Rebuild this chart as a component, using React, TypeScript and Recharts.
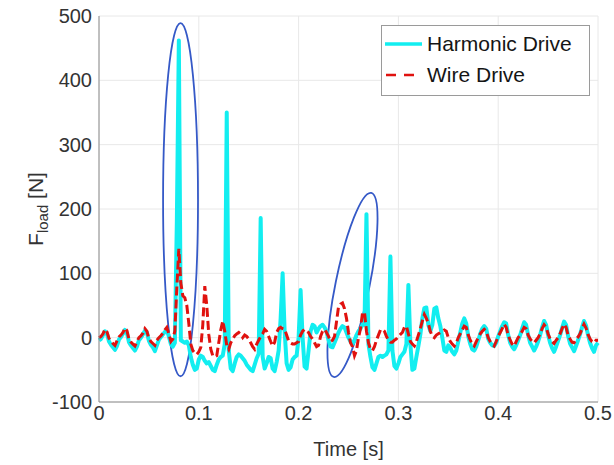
import React from 'react';
import { CartesianGrid, Legend, Line, LineChart, ReferenceArea, XAxis, YAxis } from 'recharts';

const FONT = '"Liberation Sans", Arial, Helvetica, sans-serif';
const CYAN = '#12eef0';
const RED = '#e0120f';
const ELLIPSE = '#3559c7';

// sampled every 2 ms from 0 to 0.5 s
const SAMPLE_STEP = 0.002;

const harmonicDrive = [
  -4, -2, 4, 10, 6, -6, -11, -15, -19, -13,
  -3, 1, 6, 12, 7, -7, -12, -16, -20, -14,
  -4, 0, 5, 11, 8, -5, -11, -15, -21, -12,
  -3, 1, 5, 9, 12, 2, -10, -14, -8, 180,
  462, -4, -6, -8, -6, -12, -30, -42, -50, -48,
  -34, -28, -30, -36, -40, -38, -44, -50, -52, -42,
  -34, -30, -28, -10, 350, -20, -48, -52, -40, -30,
  -26, -28, -32, -36, -42, -46, -50, -52, -42, -32,
  -25, 186, -30, -48, -40, -30, -32, -48, -52, -38,
  -20, 30, 100, 10, -40, -50, -46, -34, -30, -28,
  0, 74, 0, -45, -48, -20, 10, 20, 18, 8,
  14, 18, 20, 16, 10, -4, -14, -15, -8, 0,
  8, 14, 18, 16, 8, 0, -6, -10, -4, 4,
  10, 14, 20, 20, 192, -10, -30, -46, -50, -40,
  -30, -28, -30, -28, -26, -20, 126, -20, -44, -48,
  -40, -30, -26, -22, -10, 82, -10, -50, -48, -30,
  -13, 5, 30, 46, 47, 20, 10, 20, 45, 47,
  30, 18, 0, -20, -22, -12, -16, -22, -26, -20,
  -6, 8, 22, 30, 22, 2, -10, -18, -20, -14,
  -4, 6, 14, 18, 14, -2, -8, -12, -13, -8,
  2, 10, 18, 24, 22, 4, -8, -14, -18, -12,
  -4, 4, 14, 24, 20, 4, -8, -14, -20, -14,
  -6, 4, 16, 26, 20, 4, -8, -16, -22, -14,
  -5, 4, 15, 25, 20, 3, -9, -15, -21, -13,
  -4, 5, 16, 26, 19, 4, -8, -16, -22, -12,
  -8,
];

const wireDrive = [
  0, 2, 6, 13, 9, -1, -5, -9, -12, -5,
  1, 4, 8, 15, 11, -2, -7, -10, -13, -6,
  0, 3, 7, 14, 10, -1, -6, -9, -12, -4,
  0, 3, 7, 12, 16, 6, -6, -2, 10, 78,
  138, 85, 65, 62, 50, 22, -10, -20, -24, -26,
  -22, -15, 20, 80, 50, 5, -18, -28, -30, -28,
  -8, 12, 26, 10, -12, -18, -8, -2, 3, 6,
  8, 5, 0, 4, 2, -2, -8, -14, -18, -10,
  -4, 2, 6, 13, 10, 2, -6, -13, -7, 8,
  14, 16, 14, 13, 4, -5, -8, -10, -10, -8,
  -6, 4, 10, 13, 10, 8, 2, -2, -8, -14,
  -12, 2, 10, 13, 8, 2, -6, -4, 2, 25,
  48, 52, 54, 45, 30, 8, -8, -14, -28, -20,
  0, 14, 38, 40, 10, -8, -18, -20, -14, -4,
  4, 12, 13, 10, 2, -4, -7, -7, -4, -2,
  2, 5, 8, 16, 18, 6, -6, -10, -13, -6,
  4, 14, 26, 36, 30, 22, 10, 2, 0, 4,
  6, 8, 10, 12, 10, 0, -6, -10, -13, -8,
  0, 6, 12, 18, 16, 4, -4, -10, -13, -6,
  0, 6, 10, 13, 10, 0, -6, -10, -13, -6,
  2, 8, 14, 21, 16, 4, -4, -10, -13, -6,
  0, 4, 10, 16, 14, 4, -2, -6, -8, -4,
  0, 6, 14, 20, 16, 6, -2, -6, -9, -4,
  0, 6, 14, 21, 16, 4, -2, -7, -8, -3,
  1, 6, 14, 21, 15, 5, -2, -6, -8, -4,
  -4,
];

const xTicks = [0, 0.1, 0.2, 0.3, 0.4, 0.5];
const yTicks = [-100, 0, 100, 200, 300, 400, 500];

// hand-drawn highlight ellipses: bounding box in data units + tilt (deg)
const highlightX1 = [0.0642, 0.237];
const highlightX2 = [0.0992, 0.271];
const highlightY1 = [-60, -64];
const highlightY2 = [489, 228];
const highlightTilt = [0, 11.5];

const data = harmonicDrive.map((h, i) => ({
  t: +(i * SAMPLE_STEP).toFixed(3),
  harmonic: h,
  wire: wireDrive[i],
}));

const ellipseShape = (tilt: number) => (props: any) => {
  const { x, y, width, height } = props;
  const cx = x + width / 2;
  const cy = y + height / 2;
  return (
    <ellipse
      cx={cx}
      cy={cy}
      rx={Math.abs(width) / 2}
      ry={Math.abs(height) / 2}
      transform={`rotate(${tilt} ${cx} ${cy})`}
      fill="none"
      stroke={ELLIPSE}
      strokeWidth={1.8}
    />
  );
};

const YLabel = (props: any) => {
  const vb = props.viewBox || { x: 0, y: 16, width: 99, height: 386 };
  const x = vb.x + 43;
  const y = vb.y + vb.height / 2;
  return (
    <text x={x} y={y} transform={`rotate(-90 ${x} ${y})`} textAnchor="middle" fill="#333" fontFamily={FONT} fontSize={21}>
      <tspan>F</tspan>
      <tspan fontSize={15} dy={5}>load</tspan>
      <tspan dy={-5}> [N]</tspan>
    </text>
  );
};

const LegendBox = () => (
  <div
    style={{
      width: 209,
      height: 71,
      boxSizing: 'border-box',
      border: '1px solid #9a9a9a',
      background: '#fff',
      fontFamily: FONT,
      fontSize: 21,
      color: '#151515',
      paddingTop: 2,
    }}
  >
    <div style={{ display: 'flex', alignItems: 'center', height: 31 }}>
      <svg width={42} height={8} style={{ marginLeft: 3 }}>
        <line x1={0} y1={4} x2={37} y2={4} stroke={CYAN} strokeWidth={3.5} />
      </svg>
      <span>Harmonic Drive</span>
    </div>
    <div style={{ display: 'flex', alignItems: 'center', height: 31 }}>
      <svg width={42} height={8} style={{ marginLeft: 3 }}>
        <line x1={1} y1={4} x2={36} y2={4} stroke={RED} strokeWidth={2.5} strokeDasharray="10 8" />
      </svg>
      <span>Wire Drive</span>
    </div>
  </div>
);

export default function App() {
  return (
    <div style={{ position: 'absolute', left: 0, top: 0, width: 614, height: 465, background: '#fff' }}>
      <LineChart width={614} height={465} data={data} margin={{ top: 16, right: 16, left: 0, bottom: 0 }}>
        <CartesianGrid stroke="#e8e8e8" />
        <XAxis
          dataKey="t"
          type="number"
          domain={[0, 0.5]}
          ticks={xTicks}
          interval={0}
          tickFormatter={(v) => String(v)}
          height={63}
          tickSize={0}
          tickMargin={4}
          stroke="#8c8c8c"
          tick={{ fill: '#333', fontSize: 20, fontFamily: FONT }}
          label={{ value: 'Time [s]', position: 'insideBottom', offset: 9, fill: '#333', fontSize: 20, fontFamily: FONT }}
        />
        <YAxis
          type="number"
          domain={[-100, 500]}
          ticks={yTicks}
          interval={0}
          width={99}
          tickSize={0}
          tickMargin={7}
          stroke="#8c8c8c"
          tick={{ fill: '#333', fontSize: 20, fontFamily: FONT }}
          label={<YLabel />}
        />
        <Legend layout="vertical" align="center" verticalAlign="middle" content={<LegendBox />} wrapperStyle={{ left: 381, top: 25, width: 209 }} />
        <Line
          type="linear"
          dataKey="harmonic"
          name="Harmonic Drive"
          stroke={CYAN}
          strokeWidth={4}
          strokeLinejoin="round"
          dot={false}
          isAnimationActive={false}
        />
        <Line
          type="linear"
          dataKey="wire"
          name="Wire Drive"
          stroke={RED}
          strokeWidth={3}
          strokeDasharray="9 4"
          dot={false}
          isAnimationActive={false}
        />
        {highlightX1.map((x1, i) => (
          <ReferenceArea
            key={i}
            x1={x1}
            x2={highlightX2[i]}
            y1={highlightY1[i]}
            y2={highlightY2[i]}
            ifOverflow="visible"
            shape={ellipseShape(highlightTilt[i])}
          />
        ))}
      </LineChart>
    </div>
  );
}
